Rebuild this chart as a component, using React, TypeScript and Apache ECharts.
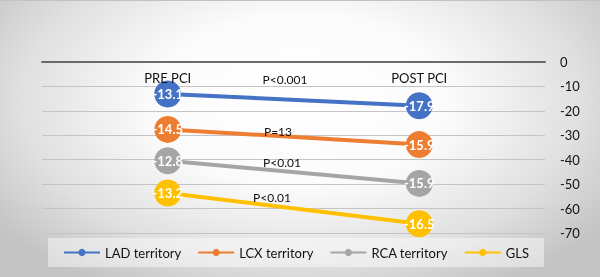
import React, { useEffect, useRef } from "react";
import * as echarts from "echarts";

// Phases on the category axis
const phases = ["PRE PCI", "POST PCI"];

// Strain values per territory (stacked along the value axis)
const ladValues = [-13.1, -17.9];
const lcxValues = [-14.5, -15.9];
const rcaValues = [-12.8, -15.9];
const glsValues = [-13.2, -16.5];

const seriesNames = ["LAD territory", "LCX territory", "RCA territory", "GLS"];
const seriesColors = ["#4472C4", "#ED7D31", "#A5A5A5", "#FFC000"];

// Significance notes between the two phases
const pValueTexts = ["P<0.001", "P=13", "P<0.01", "P<0.01"];
const pValueSpots = [
  [285, 78],
  [278, 130],
  [282, 161],
  [272, 196],
];

const FONT = "Lato, 'Open Sans', sans-serif";

export default function App() {
  const ref = useRef<HTMLDivElement>(null);

  useEffect(() => {
    if (!ref.current) return;
    const chart = echarts.init(ref.current, undefined, { renderer: "svg" });
    const values = [ladValues, lcxValues, rcaValues, glsValues];

    chart.setOption({
      animation: false,
      backgroundColor: "transparent",
      textStyle: { fontFamily: FONT },
      grid: { left: 42, right: 55, top: 61, bottom: 44 },
      xAxis: {
        type: "category",
        position: "top",
        data: phases,
        axisLine: { lineStyle: { color: "#6a6a6a", width: 2 } },
        axisTick: { show: false },
        axisLabel: { inside: true, color: "#111111", fontSize: 13, margin: 9, fontFamily: FONT },
        splitLine: { show: false },
        z: 10,
      },
      yAxis: {
        type: "value",
        position: "right",
        min: -70,
        max: 0,
        interval: 10,
        axisLine: { show: false },
        axisTick: { show: false },
        axisLabel: { color: "#111111", fontSize: 13, margin: 15, fontFamily: FONT },
        splitLine: { lineStyle: { color: "#c4c4c4", width: 1 } },
      },
      legend: {
        bottom: 10,
        left: 48,
        itemWidth: 36,
        itemHeight: 9,
        itemGap: 16,
        padding: [8, 15],
        backgroundColor: "rgba(255,255,255,0.45)",
        textStyle: { color: "#111111", fontSize: 13, fontFamily: FONT },
        data: seriesNames,
      },
      series: seriesNames.map((name, i) => ({
        name,
        type: "line",
        stack: "total",
        data: values[i],
        color: seriesColors[i],
        symbol: "circle",
        symbolSize: 27,
        lineStyle: { width: 4, color: seriesColors[i] },
        itemStyle: { color: seriesColors[i] },
        label: {
          show: true,
          position: "inside",
          color: "#ffffff",
          fontSize: 13,
          fontWeight: "bold",
          fontFamily: FONT,
        },
        z: 2 + i,
      })),
      graphic: pValueTexts.map((t, i) => ({
        type: "text",
        x: pValueSpots[i][0],
        y: pValueSpots[i][1],
        z: 100,
        style: {
          text: t,
          fill: "#111111",
          fontSize: 12,
          fontFamily: FONT,
          textAlign: "center",
          textVerticalAlign: "middle",
        },
      })),
    });

    return () => chart.dispose();
  }, []);

  return (
    <div
      style={{
        position: "fixed",
        left: 0,
        top: 0,
        width: 600,
        height: 277,
        background:
          "radial-gradient(ellipse 62% 78% at 50% 36%, #ffffff 0%, #fbfbfb 40%, #e0e0e0 75%, #c4c4c4 100%)",
        borderTop: "1px solid #c2c2c2",
        boxSizing: "border-box",
      }}
    >
      <div ref={ref} style={{ width: 600, height: 276 }} />
    </div>
  );
}
